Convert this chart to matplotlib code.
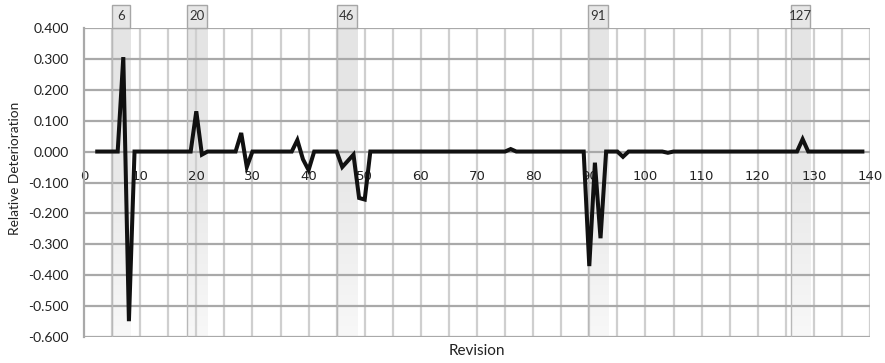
import numpy as np
import matplotlib
matplotlib.use("Agg")
import matplotlib.pyplot as plt
from matplotlib.colors import LinearSegmentedColormap
from matplotlib.patches import Rectangle
import matplotlib.transforms as mtransforms

# ---- data ----
revisions = list(range(2, 140))
deterioration = [
    0, 0, 0, 0, 0,                      # 2-6
    0.305, -0.548,                      # 7-8
    0, 0, 0, 0, 0, 0, 0, 0, 0, 0, 0,    # 9-19
    0.130, -0.010,                      # 20-21
    0, 0, 0, 0, 0, 0,                   # 22-27
    0.060, -0.050,                      # 28-29
    0, 0, 0, 0, 0, 0, 0, 0,             # 30-37
    0.037, -0.025, -0.060,              # 38-40
    0, 0, 0, 0, 0,                      # 41-45
    -0.050, -0.030, -0.010, -0.150, -0.155,  # 46-50
    0, 0, 0, 0, 0, 0, 0, 0, 0, 0,       # 51-60
    0, 0, 0, 0, 0, 0, 0, 0, 0, 0,       # 61-70
    0, 0, 0, 0, 0,                      # 71-75
    0.008,                              # 76
    0, 0, 0, 0, 0, 0, 0, 0, 0, 0, 0, 0, 0,  # 77-89
    -0.370, -0.036, -0.280,             # 90-92
    0, 0, 0,                            # 93-95
    -0.017,                             # 96
    0, 0, 0, 0, 0, 0, 0,                # 97-103
    -0.004,                             # 104
    0, 0, 0, 0, 0, 0, 0, 0, 0, 0,       # 105-114
    0, 0, 0, 0, 0, 0, 0, 0, 0, 0, 0, 0, 0,  # 115-127
    0.040,                              # 128
    0, 0, 0, 0, 0, 0, 0, 0, 0, 0, 0,    # 129-139
]
highlight_labels = ["6", "20", "46", "91", "127"]
highlight_start = [4.95, 18.3, 45.0, 89.7, 125.9]
highlight_end = [8.2, 21.9, 48.7, 93.4, 129.4]
x_ticks = list(range(0, 141, 10))
y_ticks = [0.4, 0.3, 0.2, 0.1, 0.0, -0.1, -0.2, -0.3, -0.4, -0.5, -0.6]

# ---- figure ----
fig = plt.figure(figsize=(8.85, 3.63), dpi=100)
ax_l, ax_r = 84 / 885, 870 / 885
ax_b, ax_t = 1 - 337.3 / 363, 1 - 27.7 / 363
ax = fig.add_axes([ax_l, ax_b, ax_r - ax_l, ax_t - ax_b])

ymin, ymax = -0.6, 0.4
xmin, xmax = 0, 140

cmap = LinearSegmentedColormap.from_list("band", ["#e4e4e4", "#e9e9e9", "#f8f8f8"])
grad = np.linspace(0, 1, 256).reshape(-1, 1)
trans = mtransforms.blended_transform_factory(ax.transData, ax.transAxes)
box_top = 1.073
for lab, x0, x1 in zip(highlight_labels, highlight_start, highlight_end):
    ax.imshow(grad, cmap=cmap, aspect="auto", extent=[x0, x1, ymin, ymax],
              origin="upper", zorder=0, interpolation="bilinear")
    ax.plot([x0, x0], [ymin, ymax], color="#b8b8b8", lw=1.0, zorder=0.6)
    rect = Rectangle((x0, 1.0), x1 - x0, box_top - 1.0, transform=trans,
                     facecolor="#e6e6e6", edgecolor="#a6a6a6", lw=1.0,
                     clip_on=False, zorder=3)
    ax.add_patch(rect)
    ax.text((x0 + x1) / 2, (1.0 + box_top) / 2 + 0.002, lab, transform=trans,
            ha="center", va="center", fontsize=9.5, family="Lato",
            color="#333333", zorder=4, clip_on=False)

# grid
for xv in np.arange(5, 141, 5):
    ax.axvline(xv, color="#cfcfcf", lw=1.6, zorder=0.5)
for yv in y_ticks:
    ax.axhline(yv, color="#a9a9a9", lw=1.6, zorder=0.5)

ax.plot(revisions, deterioration, color="#111111", lw=2.9, zorder=5,
        solid_joinstyle="miter", solid_capstyle="butt")

ax.set_xlim(xmin, xmax)
ax.set_ylim(ymin, ymax)

for s in ["top", "right"]:
    ax.spines[s].set_visible(False)
ax.spines["left"].set_color("#a9a9a9")
ax.spines["left"].set_linewidth(1.6)
ax.spines["bottom"].set_position(("data", 0))
ax.spines["bottom"].set_visible(False)

ax.set_xticks(x_ticks)
ax.set_xticklabels([str(v) for v in x_ticks], fontsize=9.5, family="DejaVu Sans",
                   color="#222222")
ax.set_yticks(y_ticks)
ax.set_yticklabels([f"{v:.3f}" for v in y_ticks], fontsize=10, family="Lato",
                   color="#222222")
ax.tick_params(axis="x", which="both", length=0, pad=13)
ax.tick_params(axis="y", length=0, pad=11)

fig.text(15 / 885, 1 - 168 / 363, "Relative Deterioration", rotation=90,
         ha="center", va="center", fontsize=9.8, family="Lato", color="#222222")
fig.text(477 / 885, 1 - 351 / 363, "Revision", ha="center", va="center",
         fontsize=11, family="Lato", color="#222222")

fig.savefig("out.png", dpi=100)
